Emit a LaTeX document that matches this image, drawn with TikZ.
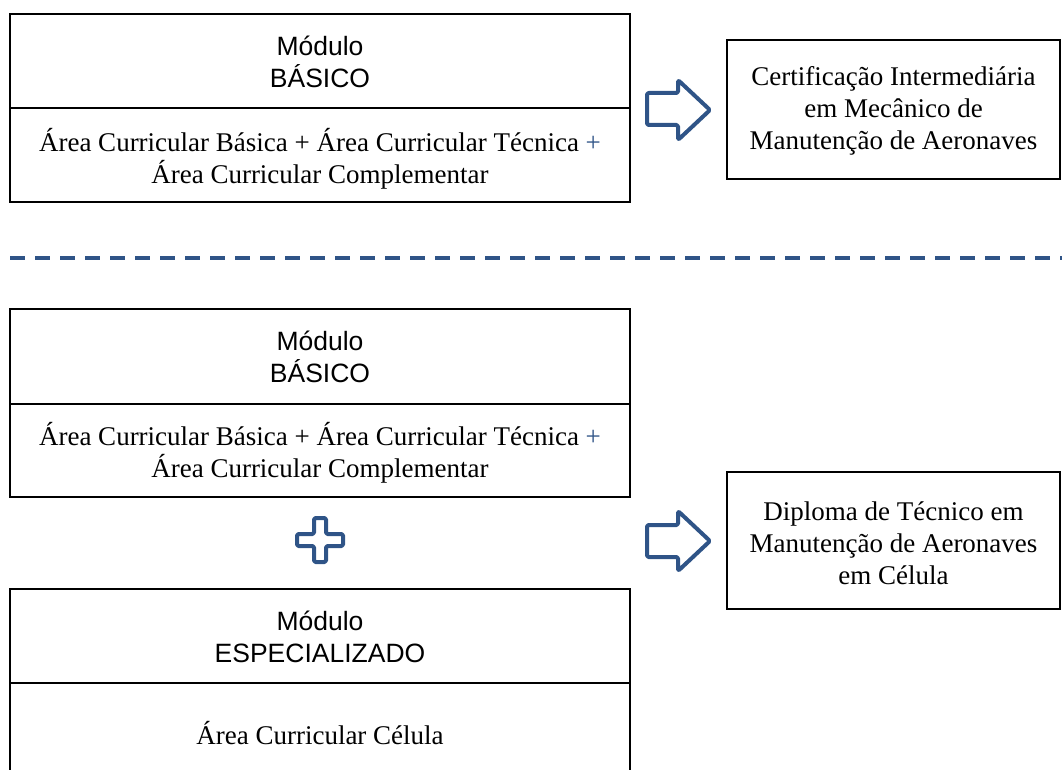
\documentclass[tikz,border=0pt]{standalone}
\usepackage{fontspec}
\setmainfont{Liberation Serif}
\newfontfamily\arialf{Liberation Sans}
\definecolor{darkblue}{HTML}{2F5487}
\begin{document}
\begin{tikzpicture}[x=1pt,y=-1pt,
  box/.style={draw=black,line width=1.8pt,minimum width=620pt,inner sep=0pt,outer sep=0pt},
  headtxt/.style={font=\arialf\fontsize{26.5}{32}\selectfont,align=center},
  bodytxt/.style={font=\fontsize{27}{32}\selectfont,align=center},
  outbox/.style={draw=black,line width=1.8pt,minimum width=333pt,inner sep=0pt,outer sep=0pt},
  blk/.style={draw=darkblue,line width=4pt,line join=round,rounded corners=1.5pt},
  sep/.style={draw=darkblue,line width=3.5pt,dash pattern=on 15pt off 10pt}]
\useasboundingbox (0,0) rectangle (1062,770);
\begin{scope}
\clip (0,0) rectangle (1062,770);
% top section
\node[box,minimum height=94pt] (h1) at (320,61) {};
\node[box,minimum height=94pt] (b1) at (320,155) {};
\node[headtxt] (h1t) at (320,62) {Módulo\\BÁSICO};
\node[bodytxt] (b1t) at (320,159) {Área Curricular Básica + Área Curricular Técnica \textcolor{darkblue}{+}\\Área Curricular Complementar};
\node[outbox,minimum height=139pt] (o1) at (893.5,109.5) {};
\node[bodytxt] (o1t) at (893.5,111) {Certificação Intermediária\\em Mecânico de\\Manutenção de Aeronaves};
\draw[blk] (647,93) -- (678,93) -- (678,80) -- (710,110) -- (678,140) -- (678,125) -- (647,125) -- cycle;
% separator
\coordinate (s1) at (10,258);
\coordinate (s2) at (1062,258);
\draw[sep] (s1) -- (s2);
% bottom section
\node[box,minimum height=95pt] (h2) at (320,356.5) {};
\node[box,minimum height=93pt] (b2) at (320,450.5) {};
\node[headtxt] (h2t) at (320,357) {Módulo\\BÁSICO};
\node[bodytxt] (b2t) at (320,453) {Área Curricular Básica + Área Curricular Técnica \textcolor{darkblue}{+}\\Área Curricular Complementar};
\draw[blk] (314,518) -- (326,518) -- (326,534) -- (343,534) -- (343,546) -- (326,546) -- (326,562) -- (314,562) -- (314,546) -- (297,546) -- (297,534) -- (314,534) -- cycle;
\node[box,minimum height=94pt] (h3) at (320,636) {};
\node[box,minimum height=120pt] (b3) at (320,743) {};
\node[headtxt] (h3t) at (320,637) {Módulo\\ESPECIALIZADO};
\node[bodytxt] (b3t) at (320,733) {Área Curricular Célula};
\node[outbox,minimum height=137pt] (o2) at (893.5,540.5) {};
\node[bodytxt] (o2t) at (893.5,543) {Diploma de Técnico em\\Manutenção de Aeronaves\\em Célula};
\draw[blk] (647,525) -- (678,525) -- (678,511) -- (710,541) -- (678,571) -- (678,557) -- (647,557) -- cycle;
\end{scope}
\end{tikzpicture}
\end{document}
